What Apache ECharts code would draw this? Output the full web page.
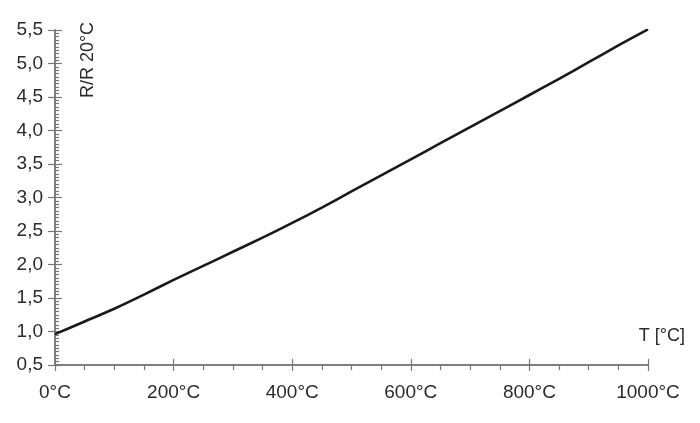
<!DOCTYPE html>
<html>
<head>
<meta charset="utf-8">
<script src="https://cdn.jsdelivr.net/npm/echarts@6/dist/echarts.min.js"></script>
<style>
  html, body { margin: 0; padding: 0; background: #fff; }
  #chart { width: 700px; height: 423px; }
</style>
</head>
<body>
<div id="chart"></div>
<script>
// temperature in °C and resistance ratio R/R20°C
const temps = [0, 50, 100, 150, 200, 250, 300, 350, 400, 450, 500,
  550, 600, 650, 700, 750, 800, 850, 900, 950, 1000];
const ratios = [0.96, 1.15, 1.34, 1.55, 1.77, 1.98, 2.19, 2.40, 2.62, 2.85, 3.09,
  3.33, 3.57, 3.81, 4.05, 4.29, 4.53, 4.77, 5.02, 5.27, 5.51];

const font = 'Liberation Sans, Arial, sans-serif';
const textColor = '#2b2b2b';
const axisColor = '#777';

const chart = echarts.init(document.getElementById('chart'), null, { renderer: 'canvas' });

// two copies of each axis so the major ticks cross the axis line
function xAxis(primary) {
    return {
        type: 'value',
        min: 0,
        max: 1000,
        interval: 200,
        position: 'bottom',
        axisLine: { show: true, onZero: false, lineStyle: { color: axisColor, width: 1.5 } },
        axisTick: { show: true, inside: !primary, length: 6, lineStyle: { color: axisColor, width: 1.2 } },
        minorTick: { show: primary, splitNumber: 4, length: 5, lineStyle: { color: axisColor, width: 1.2 } },
        splitLine: { show: false },
        axisLabel: {
            show: primary,
            margin: 18,
            fontSize: 19,
            fontFamily: font,
            color: textColor,
            formatter: v => v + '°C'
        },
        name: primary ? 'T [°C]' : '',
        nameLocation: 'end',
        nameGap: 37,
        nameTextStyle: {
            fontSize: 18,
            fontFamily: font,
            color: textColor,
            align: 'right',
            verticalAlign: 'bottom',
            padding: [0, 0, 20, 0]
        }
    };
}

function yAxis(primary) {
    return {
        type: 'value',
        min: 0.5,
        max: 5.5,
        interval: 0.5,
        position: 'left',
        axisLine: { show: true, onZero: false, lineStyle: { color: axisColor, width: 1.5 } },
        axisTick: { show: true, inside: primary, length: 7, lineStyle: { color: axisColor, width: 1.2 } },
        minorTick: { show: primary, splitNumber: 10, length: 4, lineStyle: { color: axisColor, width: 1.2 } },
        splitLine: { show: false },
        axisLabel: {
            show: primary,
            margin: 12,
            fontSize: 19,
            fontFamily: font,
            color: textColor,
            formatter: v => v.toFixed(1).replace('.', ',')
        }
    };
}

const option = {
    backgroundColor: '#fff',
    animation: false,
    grid: { left: 55, right: 52, top: 30, bottom: 58 },
    xAxis: [xAxis(true), xAxis(false)],
    yAxis: [yAxis(true), yAxis(false)],
    graphic: [{
        type: 'text',
        x: 88,
        y: 60,
        rotation: Math.PI / 2,
        style: {
            text: 'R/R 20°C',
            font: '18px ' + font,
            fill: textColor,
            align: 'center',
            verticalAlign: 'middle'
        }
    }],
    series: [{
        type: 'line',
        xAxisIndex: 0,
        yAxisIndex: 0,
        data: temps.map((t, i) => [t, ratios[i]]),
        smooth: 0.3,
        showSymbol: false,
        lineStyle: { color: '#1a1a1a', width: 2.6 }
    }]
};

chart.setOption(option);
</script>
</body>
</html>
